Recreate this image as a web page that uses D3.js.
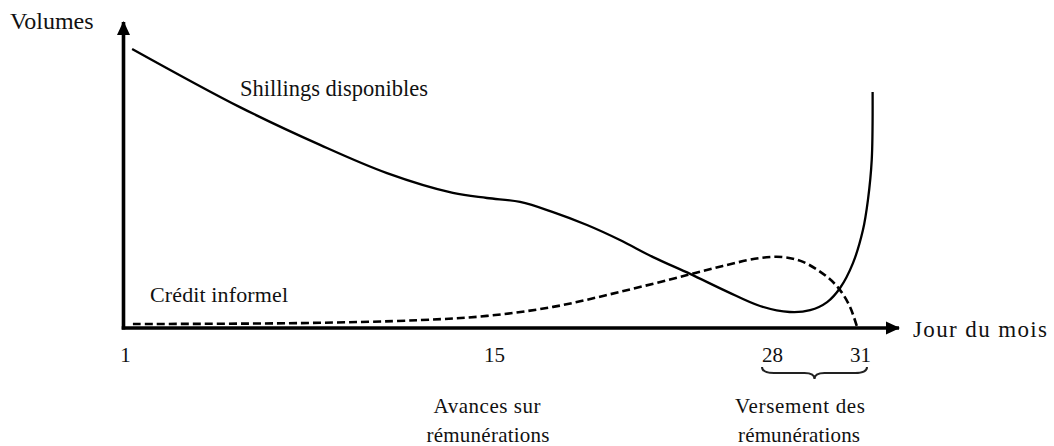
<!DOCTYPE html>
<html>
<head>
<meta charset="utf-8">
<script src="https://cdn.jsdelivr.net/npm/d3@7/dist/d3.min.js"></script>
<style>
  body { margin: 0; background: #fff; }
  text { font-family: "Liberation Serif", "Times New Roman", serif; fill: #111; }
</style>
</head>
<body>
<div id="chart"></div>
<script>
"use strict";

// tick labels on the day axis
var tickDays = [1, 15, 28, 31];

// Shillings disponibles (solid line): day of month, volume
var shillingDays = [1.27, 5.36, 8.4, 10.94, 13.44, 14.73, 16.22, 17.76, 19.35, 20.89, 22.44, 24.17, 25.9, 27.44, 28.6, 29.3, 29.88, 30.32, 30.76, 31.1, 31.27, 31.4, 31.43];
var shillingVals = [92.7, 73.3, 60.7, 51.3, 44.7, 43, 41.7, 38.3, 34, 29, 23.3, 17.7, 11.8, 7, 5, 5.6, 8.3, 13, 21.3, 32.3, 42.3, 55.7, 78.3];

// Crédit informel (dashed line)
var creditDays = [1.3, 7.64, 12.19, 14.73, 17.76, 20.89, 24.03, 25.9, 27.44, 28.38, 29.06, 29.88, 30.32, 30.66, 30.9];
var creditVals = [1, 1.3, 2.3, 3.7, 6.7, 11.7, 17.3, 20.7, 23, 23.3, 21.7, 16.7, 12.3, 6.7, 0];

// texts
var yTitle = "Volumes";
var xTitle = "Jour du mois";
var seriesNames = ["Shillings disponibles", "Crédit informel"];
var noteLeft = ["Avances sur", "rémunérations"];
var noteRight = ["Versement des", "rémunérations"];

var width = 1054, height = 446;

// schematic axis: ticks are not evenly spaced, so piecewise scale
var x = d3.scaleLinear()
          .domain(tickDays)
          .range([125, 494, 772, 860]);
var y = d3.scaleLinear()
          .domain([0, 100])
          .range([327, 27]);

var svg = d3.select("#chart")
            .append("svg")
              .attr("width", width)
              .attr("height", height)
              .attr("font-family", "Liberation Serif")
              .style("background", "#fff");

// arrow heads
var defs = svg.append("defs");
defs.append("marker")
      .attr("id", "arrow")
      .attr("markerUnits", "userSpaceOnUse")
      .attr("viewBox", "0 0 14 14")
      .attr("refX", 13)
      .attr("refY", 7)
      .attr("markerWidth", 15)
      .attr("markerHeight", 14)
      .attr("orient", "auto")
    .append("path")
      .attr("d", "M0,0.5 L14,7 L0,13.5 Z")
      .style("fill", "#000");

var x0 = 123.5;
var y0 = y(0) + 1;

// y axis line
svg.append("line")
     .attr("x1", x0).attr("y1", y0 + 1.5)
     .attr("x2", x0).attr("y2", 22)
     .style("stroke", "#000")
     .style("stroke-width", 3.6)
     .attr("marker-end", "url(#arrow)");

// x axis line
svg.append("line")
     .attr("x1", x0 - 1.8).attr("y1", y0)
     .attr("x2", 899).attr("y2", y0)
     .style("stroke", "#000")
     .style("stroke-width", 3.6)
     .attr("marker-end", "url(#arrow)");

// tick labels through a d3 axis, no tick lines
var xAxis = d3.axisBottom(x)
              .tickValues(tickDays)
              .tickSize(0)
              .tickPadding(19)
              .tickFormat(d3.format("d"));

var gx = svg.append("g")
            .attr("transform", "translate(0," + y0 + ")")
            .call(xAxis);
gx.attr("font-family", null);
gx.select(".domain").remove();
gx.selectAll("text")
    .style("font-family", "Liberation Serif, serif")
    .style("font-size", "21px")
    .style("fill", "#111");

// lines
var line = d3.line()
             .x(d => x(d[0]))
             .y(d => y(d[1]))
             .curve(d3.curveCatmullRom.alpha(0.5));

var shilling = shillingDays.map((d, i) => [d, shillingVals[i]]);
var credit = creditDays.map((d, i) => [d, creditVals[i]]);

svg.append("path")
     .datum(credit)
     .attr("d", line)
     .style("fill", "none")
     .style("stroke", "#000")
     .style("stroke-width", 2.6)
     .style("stroke-dasharray", "8,4");

svg.append("path")
     .datum(shilling)
     .attr("d", line)
     .style("fill", "none")
     .style("stroke", "#000")
     .style("stroke-width", 2.3);

// brace under 28..31
var bx1 = x(28) - 10, bx2 = x(31) + 7, bm = (bx1 + bx2) / 2;
var by = 367, bh = 6;
svg.append("path")
     .attr("d", "M" + bx1 + "," + by +
                " Q" + bx1 + "," + (by + bh) + " " + (bx1 + 12) + "," + (by + bh) +
                " L" + (bm - 10) + "," + (by + bh) +
                " Q" + bm + "," + (by + bh) + " " + bm + "," + (by + 2 * bh) +
                " Q" + bm + "," + (by + bh) + " " + (bm + 10) + "," + (by + bh) +
                " L" + (bx2 - 12) + "," + (by + bh) +
                " Q" + bx2 + "," + (by + bh) + " " + bx2 + "," + by)
     .style("fill", "none")
     .style("stroke", "#222")
     .style("stroke-width", 2);

// texts
function label(txt, px, py, size, len, anchor) {
  var t = svg.append("text")
               .attr("x", px)
               .attr("y", py)
               .style("font-size", size + "px")
               .attr("text-anchor", anchor || "start")
               .text(txt);
  if (len) t.attr("textLength", len).attr("lengthAdjust", "spacing");
  return t;
}

label(yTitle, 10, 29, 24);
label(xTitle, 913, 337, 23, 134);
label(seriesNames[0], 240, 96, 22.5, 188);
label(seriesNames[1], 150, 302, 22, 138);

label(noteLeft[0], 487, 413, 21, 107, "middle");
label(noteLeft[1], 488, 442, 21, 123, "middle");
label(noteRight[0], 800, 413, 21, 130, "middle");
label(noteRight[1], 799, 442, 21, 122, "middle");
</script>
</body>
</html>
